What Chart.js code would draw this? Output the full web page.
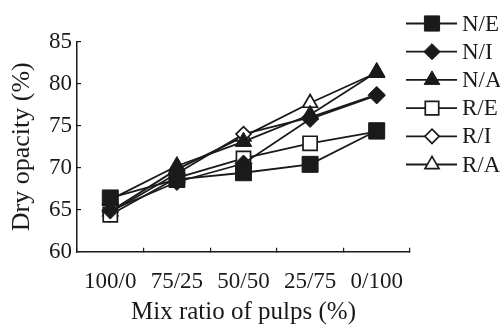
<!DOCTYPE html>
<html>
<head>
<meta charset="utf-8">
<script src="https://cdn.jsdelivr.net/npm/chart.js@4/dist/chart.umd.min.js"></script>
<style>
html,body{margin:0;padding:0;background:#fff;}
#wrap{width:500px;height:325px;}
</style>
</head>
<body>
<div id="wrap"><canvas id="c" width="500" height="325"></canvas></div>
<script>
const categories = ['100/0', '75/25', '50/50', '25/75', '0/100'];
const seriesNames = ['N/E', 'N/I', 'N/A', 'R/E', 'R/I', 'R/A'];
const NE = [66.4, 68.6, 69.4, 70.4, 74.4];
const NI = [64.9, 68.3, 70.5, 75.8, 78.6];
const NA = [66.2, 70.2, 73.1, 76.3, 81.4];
const RE = [64.4, 68.8, 71.1, 72.9, 74.3];
const RI = [64.7, 69.3, 74.0, 76.0, 78.7];
const RA = [64.8, 69.8, 73.7, 77.7, 81.3];
const yTicks = [60, 65, 70, 75, 80, 85];

const FONT = "'Liberation Serif', 'DejaVu Serif', serif";
const INK = '#1a1a1a';

const styles = [
  {pointStyle: 'rect', radius: 11.3, bg: INK, bw: 1},
  {pointStyle: 'rectRot', radius: 8.5, bg: INK, bw: 1},
  {pointStyle: 'triangle', radius: 9.5, bg: INK, bw: 1},
  {pointStyle: 'rect', radius: 10, bg: '#fff', bw: 1.7},
  {pointStyle: 'rectRot', radius: 7.5, bg: '#fff', bw: 1.7},
  {pointStyle: 'triangle', radius: 8.5, bg: '#fff', bw: 1.7}
];
const values = [NE, NI, NA, RE, RI, RA];

const datasets = seriesNames.map((name, i) => ({
  label: name,
  data: values[i],
  borderColor: INK,
  borderWidth: 1.8,
  fill: false,
  tension: 0,
  pointStyle: styles[i].pointStyle,
  pointRadius: styles[i].radius,
  pointHoverRadius: styles[i].radius,
  pointBackgroundColor: styles[i].bg,
  pointBorderColor: INK,
  pointBorderWidth: styles[i].bw
}));

const legendPlugin = {
  id: 'lineLegend',
  afterDraw(chart) {
    const ctx = chart.ctx;
    const x1 = 406, x2 = 457, mx = 432, tx = 462;
    const top = 23.5, step = 28.2;
    ctx.save();
    chart.data.datasets.forEach((ds, i) => {
      const y = top + i * step;
      ctx.strokeStyle = INK;
      ctx.lineWidth = 1.8;
      ctx.beginPath();
      ctx.moveTo(x1, y);
      ctx.lineTo(x2, y);
      ctx.stroke();
      ctx.fillStyle = ds.pointBackgroundColor;
      ctx.strokeStyle = ds.pointBorderColor;
      ctx.lineWidth = ds.pointBorderWidth;
      Chart.helpers.drawPoint(ctx, {pointStyle: ds.pointStyle, radius: ds.pointRadius * 0.95, rotation: 0, borderWidth: ds.pointBorderWidth}, mx, y);
      ctx.fillStyle = INK;
      ctx.font = "23px " + FONT;
      ctx.textAlign = 'left';
      ctx.textBaseline = 'middle';
      ctx.fillText(ds.label, tx, y + 1);
    });
    ctx.restore();
  }
};

new Chart(document.getElementById('c'), {
  type: 'line',
  data: {labels: categories, datasets: datasets},
  options: {
    responsive: false,
    animation: false,
    events: [],
    layout: {padding: {top: 41.7, right: 90, left: 0, bottom: 0}},
    plugins: {legend: {display: false}, tooltip: {enabled: false}},
    scales: {
      x: {
        type: 'category',
        offset: true,
        afterFit(scale) { scale.height = 73.3; },
        border: {color: INK, width: 1.5},
        grid: {display: true, offset: true, drawOnChartArea: false, drawTicks: true, tickLength: -4, color: INK, lineWidth: 1.2},
        ticks: {color: INK, font: {family: FONT, size: 23}, padding: 20, maxRotation: 0, autoSkip: false},
        title: {display: true, text: 'Mix ratio of pulps (%)', color: INK, font: {family: FONT, size: 25, lineHeight: 1}, padding: {top: 0, bottom: 0}}
      },
      y: {
        min: 60, max: 85,
        afterFit(scale) { scale.width = 77; },
        afterBuildTicks(scale) { scale.ticks = yTicks.map(v => ({value: v})); },
        border: {color: INK, width: 1.5},
        grid: {display: true, drawOnChartArea: false, drawTicks: true, tickLength: -4, color: INK, lineWidth: 1.2},
        ticks: {color: INK, font: {family: FONT, size: 23}, padding: 9},
        title: {display: true, text: 'Dry opacity (%)', color: INK, font: {family: FONT, size: 26, lineHeight: 1}, padding: {top: 9, bottom: 0}}
      }
    }
  },
  plugins: [legendPlugin]
});
</script>
</body>
</html>
